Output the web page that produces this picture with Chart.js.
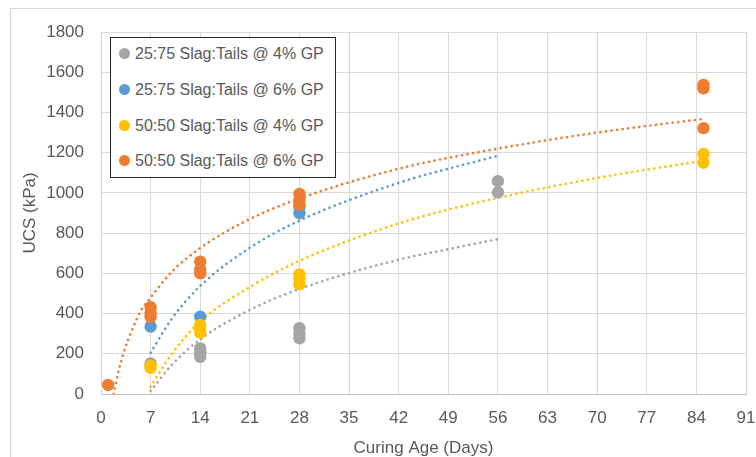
<!DOCTYPE html>
<html>
<head>
<meta charset="utf-8">
<script src="https://cdn.jsdelivr.net/npm/chart.js@4/dist/chart.umd.min.js"></script>
<style>
  html, body { margin: 0; padding: 0; background: #fff; overflow: hidden; }
  #wrap { position: relative; width: 756px; height: 457px; overflow: hidden; }
  #frame { position: absolute; left: 10px; top: 8px; width: 900px; height: 600px; border: 1px solid #d9d9d9; box-sizing: border-box; }
  canvas { position: absolute; left: 0; top: 0; }
  #legend { position: absolute; left: 110px; top: 37px; width: 226px; height: 141px; box-sizing: border-box;
            border: 1px solid #262626; background: #fff; font-family: "Liberation Sans", Arial, sans-serif; font-size: 16px; color: #595959; }
  .item { position: absolute; left: 0; height: 20px; line-height: 20px; white-space: nowrap; }
  .dot { position: absolute; left: 8px; top: 4px; width: 11px; height: 11px; border-radius: 50%; }
  .txt { position: absolute; left: 24px; top: 0; }
</style>
</head>
<body>
<div id="wrap">
  <div id="frame"></div>
  <canvas id="c" width="756" height="457"></canvas>
  <div id="legend"></div>
</div>
<script>
// ---- data ----
const seriesLabels = [
  "25:75 Slag:Tails @ 4% GP",
  "25:75 Slag:Tails @ 6% GP",
  "50:50 Slag:Tails @ 4% GP",
  "50:50 Slag:Tails @ 6% GP"
];
const seriesColors = ["#A5A5A5", "#5B9BD5", "#FFC000", "#ED7D31"];

const ages_25_75_4 = [7, 14, 14, 14, 28, 28, 28, 56, 56];
const ucs_25_75_4  = [152, 227, 205, 185, 327, 300, 277, 1058, 1003];
const ages_25_75_6 = [7, 14, 28, 28];
const ucs_25_75_6  = [335, 384, 899, 930];
const ages_50_50_4 = [7, 7, 14, 14, 14, 28, 28, 28, 85, 85];
const ucs_50_50_4  = [140, 130, 343, 325, 305, 595, 570, 545, 1193, 1150];
const ages_50_50_6 = [1, 7, 7, 7, 14, 14, 14, 28, 28, 28, 85, 85, 85];
const ucs_50_50_6  = [45, 432, 405, 384, 658, 620, 600, 995, 965, 940, 1537, 1520, 1322];

// trendline values
const trendAges_25_75_4 = [7, 10, 14, 21, 28, 42, 49, 56];
const trend_25_75_4     = [15, 145, 272, 418, 522, 668, 720, 770];
const trendAges_25_75_6 = [7, 10, 14, 21, 28, 42, 49, 56];
const trend_25_75_6     = [205, 375, 537, 727, 862, 1050, 1120, 1184];
const trendAges_50_50_4 = [7, 10, 14, 21, 28, 42, 56, 70, 85];
const trend_50_50_4     = [36, 200, 360, 532, 662, 848, 975, 1074, 1160];
const trendAges_50_50_6 = [1.8, 2.4, 3.15, 4.5, 5.7, 7, 10, 14, 21, 28, 42, 56, 70, 85];
const trend_50_50_6     = [0, 103, 200, 330, 418, 480, 608, 726, 870, 972, 1120, 1220, 1300, 1368];

const xTickMin = 0, xTickMax = 91, xTickStep = 7;
const yTickMin = 0, yTickMax = 1800, yTickStep = 200;
const xTitle = "Curing Age (Days)";
const yTitle = "UCS (kPa)";

// ---- build ----
function pts(xs, ys) { return xs.map((x, i) => ({ x: x, y: ys[i] })); }

const pointSets = [
  pts(ages_25_75_4, ucs_25_75_4),
  pts(ages_25_75_6, ucs_25_75_6),
  pts(ages_50_50_4, ucs_50_50_4),
  pts(ages_50_50_6, ucs_50_50_6)
];
const trendSets = [
  pts(trendAges_25_75_4, trend_25_75_4),
  pts(trendAges_25_75_6, trend_25_75_6),
  pts(trendAges_50_50_4, trend_50_50_4),
  pts(trendAges_50_50_6, trend_50_50_6)
];

const datasets = [];
pointSets.forEach((d, i) => {
  datasets.push({
    label: seriesLabels[i],
    data: d,
    backgroundColor: seriesColors[i],
    borderColor: seriesColors[i],
    pointRadius: 6.2,
    pointBorderWidth: 0,
    pointHoverRadius: 6.2,
    showLine: false,
    order: 3 - i
  });
});
trendSets.forEach((d, i) => {
  datasets.push({
    label: seriesLabels[i] + " trend",
    data: d,
    borderColor: seriesColors[i],
    backgroundColor: seriesColors[i],
    borderWidth: 2.7,
    borderDash: [0.01, 5.6],
    borderCapStyle: 'round',
    pointRadius: 0,
    showLine: true,
    cubicInterpolationMode: 'monotone',
    fill: false,
    order: 10 + i
  });
});

const font = { family: '"Liberation Sans", Arial, sans-serif', size: 17 };
const titleFont = { family: '"Liberation Sans", Arial, sans-serif', size: 17, lineHeight: 1.05 };

new Chart(document.getElementById('c'), {
  type: 'scatter',
  data: { datasets: datasets },
  options: {
    responsive: false,
    animation: false,
    events: [],
    layout: { padding: { left: 0, right: 10, top: 32, bottom: 0 } },
    plugins: { legend: { display: false }, tooltip: { enabled: false } },
    scales: {
      x: {
        type: 'linear',
        min: xTickMin, max: xTickMax,
        ticks: { stepSize: xTickStep, color: '#595959', font: font, padding: 14, maxRotation: 0, autoSkip: false,
                 callback: v => String(v) },
        grid: { color: '#d9d9d9', lineWidth: 1, drawTicks: false },
        border: { color: '#bfbfbf', width: 1 },
        title: { display: true, text: xTitle, color: '#595959', font: titleFont, padding: { top: 0, bottom: 0 } },
        afterFit: s => { s.height = 63; s.paddingRight = 0; s.paddingLeft = 0; }
      },
      y: {
        type: 'linear',
        min: yTickMin, max: yTickMax,
        ticks: { stepSize: yTickStep, color: '#595959', font: font, padding: 17,
                 callback: v => String(v) },
        grid: { color: '#d9d9d9', lineWidth: 1, drawTicks: false },
        border: { color: '#d9d9d9', width: 1 },
        title: { display: true, text: yTitle, color: '#595959', font: font, padding: { top: 20, bottom: 0 } },
        afterFit: s => { s.width = 101; s.paddingTop = 0; s.paddingBottom = 0; }
      }
    }
  }
});

// legend (HTML, boxed inside plot area)
const lg = document.getElementById('legend');
const rowTops = [6, 42, 78, 113];
seriesLabels.forEach((lab, i) => {
  const it = document.createElement('div');
  it.className = 'item';
  it.style.top = rowTops[i] + 'px';
  const d = document.createElement('span');
  d.className = 'dot';
  d.style.background = seriesColors[i];
  const t = document.createElement('span');
  t.className = 'txt';
  t.textContent = lab;
  it.appendChild(d); it.appendChild(t);
  lg.appendChild(it);
});
</script>
</body>
</html>
